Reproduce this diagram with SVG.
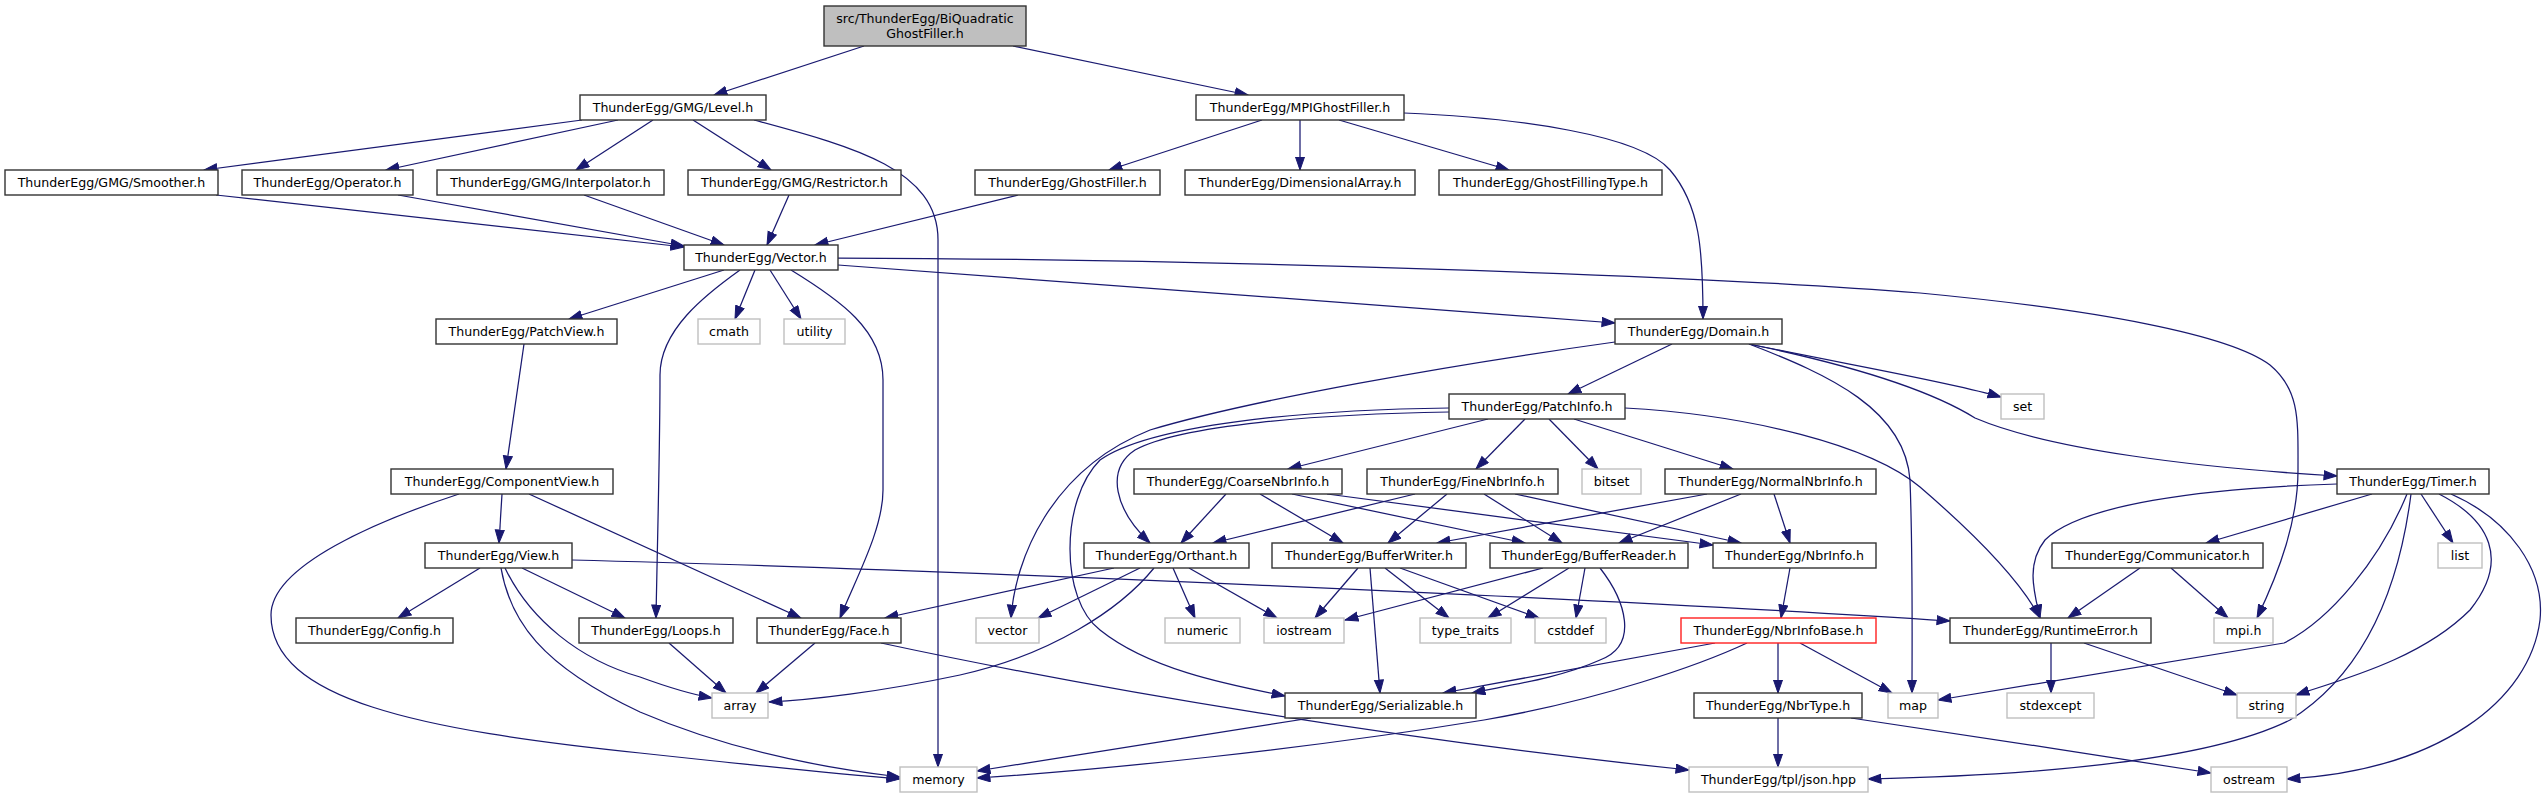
<svg xmlns="http://www.w3.org/2000/svg" width="2548" height="799" viewBox="0 0 2548 799">
<style>
rect{fill:#fff;stroke:#333;stroke-width:1.4}
.g rect{stroke:#bfbfbf}
.r rect{stroke:#ff2020}
.root rect{fill:#bfbfbf}
text{font-family:"DejaVu Sans",sans-serif;font-size:12.6px;text-anchor:middle;fill:#000}
#edges path{fill:none;stroke:#191970;stroke-width:1.25;marker-end:url(#ah)}
</style>
<defs>
<marker id="ah" markerUnits="userSpaceOnUse" markerWidth="16" markerHeight="12" refX="13.5" refY="5" orient="auto"><path d="M0.5,0.5 L13.5,5 L0.5,9.5 z" fill="#191970" stroke="#191970" stroke-width="1"/></marker>
</defs>
<rect x="0" y="0" width="2548" height="799" style="fill:#fff;stroke:none"/>
<g id="edges">
<path d="M864,46 L714,95"/>
<path d="M1013,46 L1248,95"/>
<path d="M582,120 L204,170"/>
<path d="M618,120 L386,170"/>
<path d="M653,120 L576,170"/>
<path d="M693,120 L771,170"/>
<path d="M754,120 C850,146 938,168 938,240 L938,767"/>
<path d="M1262,120 L1109,170"/>
<path d="M1300,120 L1300,170"/>
<path d="M1339,120 L1509,170"/>
<path d="M1404,113 C1520,118 1640,135 1670,170 C1700,205 1703,250 1703,319"/>
<path d="M216,195 L684,247"/>
<path d="M398,195 L684,246"/>
<path d="M584,195 L724,245"/>
<path d="M789,195 L767,245"/>
<path d="M1018,195 L815,245"/>
<path d="M724,270 L569,319"/>
<path d="M755,270 L735,319"/>
<path d="M770,270 L801,319"/>
<path d="M740,270 C705,295 660,330 660,375 C660,450 657,560 656,618"/>
<path d="M791,270 C840,300 883,330 883,380 L883,490 C883,530 855,580 840,618"/>
<path d="M838,265 L1615,323"/>
<path d="M838,258 C1200,259 1700,275 1920,293 C2100,310 2230,335 2270,365 C2300,390 2298,420 2298,470 C2298,520 2280,570 2257,618"/>
<path d="M524,344 L506,469"/>
<path d="M502,494 L499,543"/>
<path d="M529,494 L801,618"/>
<path d="M459,494 C380,520 271,565 271,615 C271,700 420,730 640,753 C760,766 850,775 900,779"/>
<path d="M480,568 L398,618"/>
<path d="M522,568 L625,618"/>
<path d="M505,568 C530,620 580,660 640,677 C670,688 690,694 712,698"/>
<path d="M501,568 C510,620 540,665 640,712 C740,755 840,770 900,777"/>
<path d="M572,560 C900,568 1600,598 1950,621"/>
<path d="M669,643 L726,693"/>
<path d="M815,643 L756,693"/>
<path d="M881,643 C1100,690 1400,740 1689,770"/>
<path d="M1672,344 L1568,394"/>
<path d="M1615,342 C1450,365 1250,400 1150,430 C1050,470 1015,560 1011,618"/>
<path d="M1749,344 C1830,375 1905,410 1910,480 C1913,560 1912,640 1912,693"/>
<path d="M1749,344 C1850,365 1950,382 2001,397"/>
<path d="M1749,344 C1850,365 1930,390 1975,418 C2050,450 2200,468 2337,476"/>
<path d="M1488,419 L1288,469"/>
<path d="M1525,419 L1476,469"/>
<path d="M1549,419 L1598,469"/>
<path d="M1574,419 L1733,469"/>
<path d="M1449,412 C1320,414 1180,425 1135,450 C1105,470 1115,510 1150,543"/>
<path d="M1449,408 C1300,410 1150,425 1100,460 C1060,500 1060,600 1100,630 C1150,670 1230,685 1285,696"/>
<path d="M1625,408 C1750,415 1870,445 1920,487 C1970,530 2020,580 2040,618"/>
<path d="M1226,494 L1181,543"/>
<path d="M1260,494 L1343,543"/>
<path d="M1292,494 L1525,543"/>
<path d="M1327,494 L1713,545"/>
<path d="M1415,494 L1213,543"/>
<path d="M1447,494 L1388,543"/>
<path d="M1484,494 L1562,543"/>
<path d="M1515,494 L1741,543"/>
<path d="M1707,494 L1437,543"/>
<path d="M1741,494 L1619,543"/>
<path d="M1774,494 L1790,543"/>
<path d="M1114,568 L885,618"/>
<path d="M1140,568 L1038,618"/>
<path d="M1173,568 L1195,618"/>
<path d="M1189,568 L1277,618"/>
<path d="M1154,568 C1120,610 1050,655 960,675 C880,692 810,700 769,702"/>
<path d="M1358,568 L1315,618"/>
<path d="M1370,568 L1380,693"/>
<path d="M1385,568 L1449,618"/>
<path d="M1400,568 L1539,618"/>
<path d="M1543,568 L1345,620"/>
<path d="M1569,568 L1488,618"/>
<path d="M1585,568 L1576,618"/>
<path d="M1600,568 C1625,600 1640,645 1600,660 C1560,678 1510,685 1472,693"/>
<path d="M1790,568 L1781,618"/>
<path d="M1715,643 L1443,693"/>
<path d="M1778,643 L1778,693"/>
<path d="M1800,643 L1892,693"/>
<path d="M1747,643 C1700,665 1600,700 1484,720 C1300,750 1100,770 977,778"/>
<path d="M1311,718 C1200,735 1050,760 977,771"/>
<path d="M1778,718 L1778,767"/>
<path d="M1851,718 C1950,733 2100,755 2211,773"/>
<path d="M2051,643 L2051,693"/>
<path d="M2084,643 L2237,695"/>
<path d="M2337,484 C2200,488 2080,505 2045,540 C2025,565 2035,595 2040,618"/>
<path d="M2372,494 L2206,543"/>
<path d="M2421,494 L2453,543"/>
<path d="M2407,494 C2380,560 2330,620 2284,643 L1938,700"/>
<path d="M2411,494 C2400,580 2370,670 2290,720 C2200,765 2000,776 1868,779"/>
<path d="M2439,494 C2490,520 2510,560 2470,610 C2420,660 2340,680 2296,695"/>
<path d="M2451,494 C2510,520 2545,570 2540,620 C2530,700 2440,770 2287,779"/>
<path d="M2140,568 L2068,618"/>
<path d="M2171,568 L2228,618"/>
</g>
<g id="root" class="root"><rect x="824" y="6" width="202" height="40"/><text x="925" y="23">src/ThunderEgg/BiQuadratic</text><text x="925" y="37.5">GhostFiller.h</text></g>
<g id="level"><rect x="580" y="95" width="186" height="25"/><text x="673" y="111.5">ThunderEgg/GMG/Level.h</text></g>
<g id="mpigf"><rect x="1196" y="95" width="208" height="25"/><text x="1300" y="111.5">ThunderEgg/MPIGhostFiller.h</text></g>
<g id="smoother"><rect x="5" y="170" width="213" height="25"/><text x="111.5" y="186.5">ThunderEgg/GMG/Smoother.h</text></g>
<g id="operator"><rect x="242" y="170" width="171" height="25"/><text x="327.5" y="186.5">ThunderEgg/Operator.h</text></g>
<g id="interp"><rect x="437" y="170" width="227" height="25"/><text x="550.5" y="186.5">ThunderEgg/GMG/Interpolator.h</text></g>
<g id="restrictor"><rect x="688" y="170" width="213" height="25"/><text x="794.5" y="186.5">ThunderEgg/GMG/Restrictor.h</text></g>
<g id="ghostfiller"><rect x="975" y="170" width="185" height="25"/><text x="1067.5" y="186.5">ThunderEgg/GhostFiller.h</text></g>
<g id="dimarray"><rect x="1185" y="170" width="230" height="25"/><text x="1300" y="186.5">ThunderEgg/DimensionalArray.h</text></g>
<g id="gftype"><rect x="1439" y="170" width="223" height="25"/><text x="1550.5" y="186.5">ThunderEgg/GhostFillingType.h</text></g>
<g id="vector"><rect x="684" y="245" width="154" height="25"/><text x="761" y="261.5">ThunderEgg/Vector.h</text></g>
<g id="patchview"><rect x="436" y="319" width="181" height="25"/><text x="526.5" y="335.5">ThunderEgg/PatchView.h</text></g>
<g id="cmath" class="g"><rect x="698" y="319" width="62" height="25"/><text x="729" y="335.5">cmath</text></g>
<g id="utility" class="g"><rect x="784" y="319" width="61" height="25"/><text x="814.5" y="335.5">utility</text></g>
<g id="domain"><rect x="1615" y="319" width="167" height="25"/><text x="1698.5" y="335.5">ThunderEgg/Domain.h</text></g>
<g id="patchinfo"><rect x="1449" y="394" width="176" height="25"/><text x="1537" y="410.5">ThunderEgg/PatchInfo.h</text></g>
<g id="set" class="g"><rect x="2001" y="394" width="43" height="25"/><text x="2022.5" y="410.5">set</text></g>
<g id="compview"><rect x="391" y="469" width="222" height="25"/><text x="502" y="485.5">ThunderEgg/ComponentView.h</text></g>
<g id="coarse"><rect x="1134" y="469" width="208" height="25"/><text x="1238" y="485.5">ThunderEgg/CoarseNbrInfo.h</text></g>
<g id="fine"><rect x="1367" y="469" width="191" height="25"/><text x="1462.5" y="485.5">ThunderEgg/FineNbrInfo.h</text></g>
<g id="bitset" class="g"><rect x="1582" y="469" width="59" height="25"/><text x="1611.5" y="485.5">bitset</text></g>
<g id="normal"><rect x="1665" y="469" width="211" height="25"/><text x="1770.5" y="485.5">ThunderEgg/NormalNbrInfo.h</text></g>
<g id="timer"><rect x="2337" y="469" width="152" height="25"/><text x="2413" y="485.5">ThunderEgg/Timer.h</text></g>
<g id="view"><rect x="425" y="543" width="147" height="25"/><text x="498.5" y="559.5">ThunderEgg/View.h</text></g>
<g id="orthant"><rect x="1084" y="543" width="165" height="25"/><text x="1166.5" y="559.5">ThunderEgg/Orthant.h</text></g>
<g id="bwriter"><rect x="1272" y="543" width="194" height="25"/><text x="1369" y="559.5">ThunderEgg/BufferWriter.h</text></g>
<g id="breader"><rect x="1490" y="543" width="198" height="25"/><text x="1589" y="559.5">ThunderEgg/BufferReader.h</text></g>
<g id="nbrinfo"><rect x="1713" y="543" width="163" height="25"/><text x="1794.5" y="559.5">ThunderEgg/NbrInfo.h</text></g>
<g id="comm"><rect x="2052" y="543" width="211" height="25"/><text x="2157.5" y="559.5">ThunderEgg/Communicator.h</text></g>
<g id="list" class="g"><rect x="2438" y="543" width="44" height="25"/><text x="2460" y="559.5">list</text></g>
<g id="config"><rect x="296" y="618" width="157" height="25"/><text x="374.5" y="634.5">ThunderEgg/Config.h</text></g>
<g id="loops"><rect x="579" y="618" width="154" height="25"/><text x="656" y="634.5">ThunderEgg/Loops.h</text></g>
<g id="face"><rect x="757" y="618" width="144" height="25"/><text x="829" y="634.5">ThunderEgg/Face.h</text></g>
<g id="vec" class="g"><rect x="976" y="618" width="63" height="25"/><text x="1007.5" y="634.5">vector</text></g>
<g id="numeric" class="g"><rect x="1165" y="618" width="75" height="25"/><text x="1202.5" y="634.5">numeric</text></g>
<g id="iostream" class="g"><rect x="1264" y="618" width="80" height="25"/><text x="1304" y="634.5">iostream</text></g>
<g id="typetraits" class="g"><rect x="1420" y="618" width="91" height="25"/><text x="1465.5" y="634.5">type_traits</text></g>
<g id="cstddef" class="g"><rect x="1535" y="618" width="71" height="25"/><text x="1570.5" y="634.5">cstddef</text></g>
<g id="nbrinfobase" class="r"><rect x="1681" y="618" width="195" height="25"/><text x="1778.5" y="634.5">ThunderEgg/NbrInfoBase.h</text></g>
<g id="runtime"><rect x="1950" y="618" width="201" height="25"/><text x="2050.5" y="634.5">ThunderEgg/RuntimeError.h</text></g>
<g id="mpih" class="g"><rect x="2214" y="618" width="59" height="25"/><text x="2243.5" y="634.5">mpi.h</text></g>
<g id="array" class="g"><rect x="712" y="693" width="56" height="25"/><text x="740" y="709.5">array</text></g>
<g id="serial"><rect x="1285" y="693" width="191" height="25"/><text x="1380.5" y="709.5">ThunderEgg/Serializable.h</text></g>
<g id="nbrtype"><rect x="1694" y="693" width="168" height="25"/><text x="1778" y="709.5">ThunderEgg/NbrType.h</text></g>
<g id="map" class="g"><rect x="1888" y="693" width="50" height="25"/><text x="1913" y="709.5">map</text></g>
<g id="stdexcept" class="g"><rect x="2007" y="693" width="87" height="25"/><text x="2050.5" y="709.5">stdexcept</text></g>
<g id="string" class="g"><rect x="2237" y="693" width="59" height="25"/><text x="2266.5" y="709.5">string</text></g>
<g id="memory" class="g"><rect x="900" y="767" width="77" height="25"/><text x="938.5" y="783.5">memory</text></g>
<g id="json" class="g"><rect x="1689" y="767" width="179" height="25"/><text x="1778.5" y="783.5">ThunderEgg/tpl/json.hpp</text></g>
<g id="ostream" class="g"><rect x="2211" y="767" width="76" height="25"/><text x="2249" y="783.5">ostream</text></g>
</svg>
